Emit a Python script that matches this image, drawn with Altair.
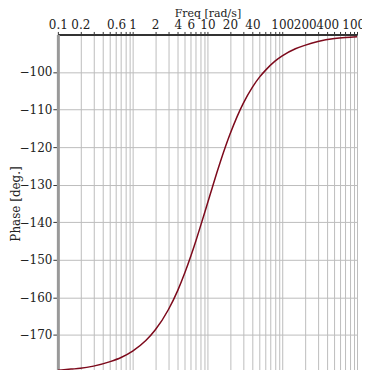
import altair as alt
import pandas as pd

freq = [0.1, 0.15, 0.2, 0.3, 0.5, 0.7, 1, 1.5, 2, 3, 4, 5, 6, 7, 8, 9, 10, 11, 12, 15,
        20, 25, 30, 40, 50, 60, 80, 100, 150, 200, 300, 500, 700, 1000]
phase = [-179.4, -179.1, -178.9, -178.3, -177.1, -176.0, -174.3, -171.5, -168.7,
         -163.3, -158.2, -153.4, -149.0, -145.0, -141.3, -138.0, -135.0, -132.3,
         -129.8, -123.7, -116.6, -111.8, -108.4, -104.0, -101.3, -99.5, -97.1,
         -95.7, -93.8, -92.9, -91.9, -91.1, -90.8, -90.6]

tick_vals = [round(m * d, 4) for d in [0.1, 1, 10, 100] for m in range(1, 10)] + [1000]
label_vals = [0.1, 0.2, 0.6, 1, 2, 4, 6, 10, 20, 40, 100, 200, 400, 1000]
y_ticks = [-170, -160, -150, -140, -130, -120, -110, -100]

df = pd.DataFrame({"freq": freq, "phase": phase})

label_expr = ("indexof([" + ",".join(str(v) for v in label_vals)
              + "], datum.value) >= 0 ? datum.label : ''")

FONT = "DejaVu Serif, Liberation Serif, serif"

chart = alt.Chart(df).mark_line(color="#7d0a1c", strokeWidth=1.5, clip=True,
                                interpolate="monotone").encode(
    x=alt.X("freq:Q",
            scale=alt.Scale(type="log", domain=[0.1, 1000], nice=False),
            axis=alt.Axis(orient="top", title="Freq [rad/s]", values=tick_vals,
                          format="~g", labelExpr=label_expr, labelOverlap=False,
                          labelFlush=False,
                          grid=True, gridColor="#bdbdbd", gridWidth=1, gridOpacity=1,
                          domainColor="#333333", domainWidth=2,
                          tickColor="#333333", tickSize=3,
                          labelFont=FONT, labelFontSize=12, labelColor="#222",
                          titleFont=FONT, titleFontSize=11,
                          titleFontWeight="normal", titleColor="#222",
                          labelPadding=0, titlePadding=0)),
    y=alt.Y("phase:Q",
            scale=alt.Scale(domain=[-180, -90], nice=False, zero=False),
            axis=alt.Axis(title="Phase [deg.]", values=y_ticks,
                          grid=True, gridColor="#bdbdbd", gridWidth=1, gridOpacity=1,
                          domainColor="#999999", domainWidth=3,
                          tickColor="#333333", tickSize=5,
                          labelFont=FONT, labelFontSize=12, labelColor="#222",
                          titleFont=FONT, titleFontSize=12,
                          titleFontWeight="normal", titleColor="#222",
                          labelPadding=1, titlePadding=-3)),
).properties(
    width=300, height=339,
    autosize=alt.AutoSizeParams(type="none"),
    padding={"left": 50, "top": 26, "right": 5, "bottom": 5},
).configure_view(stroke=None)

chart.save("out.html", embed_options={"renderer": "svg", "actions": False})
